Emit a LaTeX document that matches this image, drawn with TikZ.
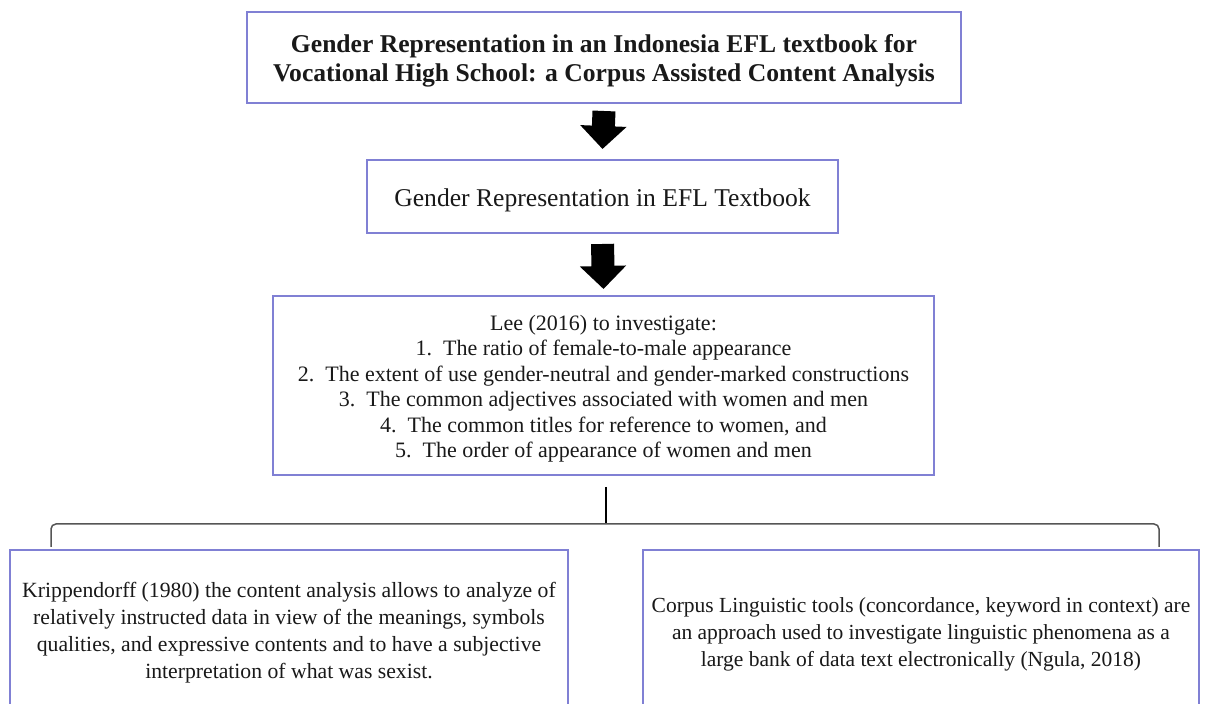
\documentclass[tikz,border=0pt]{standalone}
\usepackage{fontspec}
\setmainfont{Liberation Serif}
\usetikzlibrary{arrows.meta,calc}
\definecolor{boxc}{RGB}{128,128,212}
\definecolor{txtc}{RGB}{25,25,25}
\definecolor{brkc}{RGB}{85,85,85}
\begin{document}
\begin{tikzpicture}[x=0.5pt,y=-0.5pt,
  box/.style={draw=boxc, line width=1pt, inner sep=0pt},
  lbl/.style={inner sep=0pt, align=center, text=txtc},
  blockarr/.style={line width=11.5pt, -{Triangle[width=22.5pt,length=11.5pt]}, black},
  bracketline/.style={draw=brkc, line width=0.75pt, rounded corners=2.5pt},
  stemline/.style={draw=black, line width=1.3pt}]
\useasboundingbox (0,0) rectangle (1205,704);
\clip (0,0) rectangle (1205,704);
\fill[white] (0,0) rectangle (1205,704);

% boxes
\node[box, minimum width=357pt, minimum height=45.5pt] (top) at (604,57.5) {};
\node[box, minimum width=235.5pt, minimum height=36.5pt] (mid) at (602.5,196.5) {};
\node[box, minimum width=330.5pt, minimum height=89.5pt] (lee) at (603.5,385.5) {};
\node[box, minimum width=279pt, minimum height=80.5pt] (kri) at (289,631) {};
\node[box, minimum width=278pt, minimum height=80.5pt] (cor) at (921,631) {};

% texts
\node[lbl, font=\bfseries\fontsize{12.8}{14.5}\selectfont] (toptext) at ($(top.center)+(0,3)$)
  {Gender Representation in an Indonesia EFL textbook for\\Vocational High School: a Corpus Assisted Content Analysis};

\node[lbl, font=\fontsize{12.8}{14}\selectfont] (midtext) at ($(mid.center)+(0,4)$)
  {Gender Representation in EFL Textbook};

\node[lbl, font=\fontsize{11}{12.75}\selectfont] (leetext) at ($(lee.center)+(0,3)$)
  {Lee (2016) to investigate:\\
   1.\ \ The ratio of female-to-male appearance\\
   2.\ \ The extent of use gender-neutral and gender-marked constructions\\
   3.\ \ The common adjectives associated with women and men\\
   4.\ \ The common titles for reference to women, and\\
   5.\ \ The order of appearance of women and men};

\node[lbl, font=\fontsize{10.85}{13.5}\selectfont] (kritext) at ($(kri.center)+(0,2)$)
  {Krippendorff (1980) the content analysis allows to analyze of\\
   relatively instructed data in view of the meanings, symbols\\
   qualities, and expressive contents and to have a subjective\\
   interpretation of what was sexist.};

\node[lbl, font=\fontsize{10.75}{13.5}\selectfont] (cortext) at ($(cor.center)+(0,3)$)
  {Corpus Linguistic tools (concordance, keyword in context) are\\
   an approach used to investigate linguistic phenomena as a\\
   large bank of data text electronically (Ngula, 2018)};

% connectors
\draw[blockarr] ($(top.south)+(0,7)$) -- ($(mid.north)+(0,-10)$);
\draw[blockarr] ($(mid.south)+(0,10)$) -- ($(lee.north)+(0,-6)$);

\coordinate (hub) at (606,524);
\coordinate (bl) at (51,547);
\coordinate (br) at (1159,547);
\draw[stemline] ($(lee.south)+(2.5,11)$) -- (hub);
\draw[bracketline] (bl) |- (hub) -| (br);
\end{tikzpicture}
\end{document}
